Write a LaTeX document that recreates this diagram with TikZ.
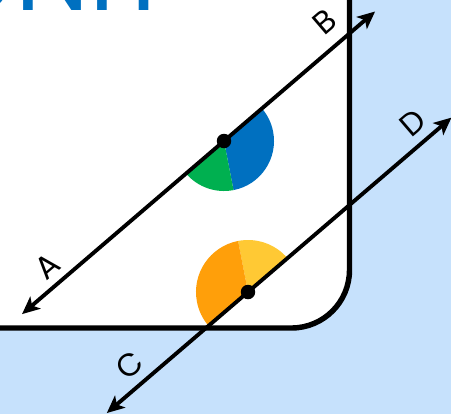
\documentclass[tikz,border=0pt]{standalone}
\usepackage{fontspec}
\setmainfont{Poppins}
\usetikzlibrary{arrows.meta}
\definecolor{bg}{HTML}{C6E1FC}
\definecolor{unitblue}{HTML}{0070C0}
\definecolor{secblue}{HTML}{0070C0}
\definecolor{secgreen}{HTML}{00B050}
\definecolor{secorange}{HTML}{FF9F0A}
\definecolor{secyellow}{HTML}{FFC934}
\tikzset{
  dot/.style={circle, fill=black, inner sep=0pt, minimum size=0.29cm},
  ray/.style={line width=2.2pt, {Stealth[length=10pt,width=9pt,inset=2.5pt]}-{Stealth[length=10pt,width=9pt,inset=2.5pt]}},
  lbl/.style={font=\fontsize{18}{18}\selectfont, rotate=40.6, inner sep=0pt},
  frame/.style={line width=3.1pt, fill=white, rounded corners=1.16cm}
}
\begin{document}
\begin{tikzpicture}[x=0.02cm,y=0.02cm]
\useasboundingbox (0,0) rectangle (451,-414);
\clip (0,0) rectangle (451,-414);
\fill[bg] (0,0) rectangle (451,-414);
\draw[frame] (-60,60) rectangle (349.5,-328);
\node[anchor=base west, text=unitblue, inner sep=0pt, font=\fontsize{60}{60}\selectfont] (title) at (-56,-10.5) {UNIT};
% points
\coordinate (P) at (224,-141);
\coordinate (Q) at (248,-292);
% sectors
\fill[secblue] (P) -- ++(-79:50) arc[start angle=-79, end angle=40.6, radius=50] -- cycle;
\fill[secgreen] (P) -- ++(220.6:50) arc[start angle=220.6, end angle=281, radius=50] -- cycle;
\fill[secyellow] (Q) -- ++(40.6:52) arc[start angle=40.6, end angle=101, radius=52] -- cycle;
\fill[secorange] (Q) -- ++(101:52) arc[start angle=101, end angle=220.6, radius=52] -- cycle;
% ray ends
\coordinate (Atip) at ([shift={(220.6:266)}]P);
\coordinate (Btip) at ([shift={(40.6:199)}]P);
\coordinate (Ctip) at ([shift={(220.6:186)}]Q);
\coordinate (Dtip) at ([shift={(40.6:268)}]Q);
\draw[ray] (Atip) -- (Btip);
\draw[ray] (Ctip) -- (Dtip);
\node[dot] (p) at (P) {};
\node[dot] (q) at (Q) {};
% labels
\node[lbl] (la) at (47,-266) {A};
\node[lbl] (lb) at (325,-22) {B};
\node[lbl] (lc) at (130,-365) {C};
\node[lbl] (ld) at (413,-123) {D};
\end{tikzpicture}
\end{document}
